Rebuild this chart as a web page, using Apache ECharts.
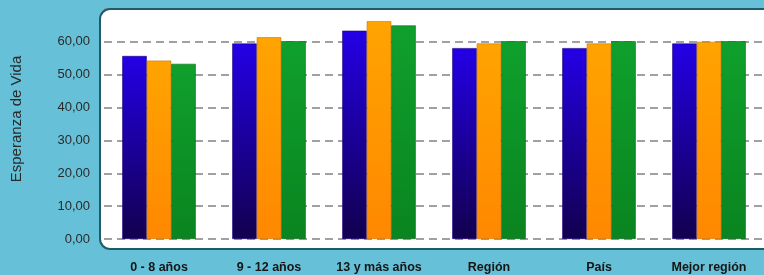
<!DOCTYPE html>
<html>
<head>
<meta charset="utf-8">
<script src="https://cdn.jsdelivr.net/npm/echarts@6/dist/echarts.min.js"></script>
<style>
html,body{margin:0;padding:0;background:#66C1D8;}
#c{width:764px;height:275px;}
</style>
</head>
<body>
<div id="c"></div>
<script>
const categories = ['0 - 8 años', '9 - 12 años', '13 y más años', 'Región', 'País', 'Mejor región'];
const serie1 = [55.7, 59.5, 63.4, 58.1, 58.1, 59.5];
const serie2 = [54.3, 61.4, 66.3, 59.5, 59.5, 60.0];
const serie3 = [53.3, 60.2, 65.0, 60.2, 60.2, 60.2];
const yTicks = [0, 10, 20, 30, 40, 50, 60];

function grad(top, bottom) {
  return new echarts.graphic.LinearGradient(0, 0, 0, 1, [
    {offset: 0, color: top}, {offset: 1, color: bottom}
  ]);
}

const chart = echarts.init(document.getElementById('c'));
const font = 'Liberation Sans, Arial, sans-serif';
chart.setOption({
  backgroundColor: '#66C1D8',
  animation: false,
  graphic: [
    {type: 'rect', z: -100, shape: {x: 100, y: 9, width: 690, height: 240, r: 10},
     style: {fill: '#ffffff', stroke: null}},
    {type: 'rect', z: 100, shape: {x: 100, y: 9, width: 690, height: 240, r: 10},
     style: {fill: null, stroke: '#1E5B6B', lineWidth: 2}},
    {type: 'text', z: 100, x: 17, y: 119, rotation: Math.PI / 2,
     style: {text: 'Esperanza de Vida', fill: '#2a2a2a', font: '15px ' + font, align: 'center', verticalAlign: 'middle'}}
  ],
  grid: {left: 104, width: 663, top: 9, bottom: 36, containLabel: false},
  xAxis: {
    type: 'category', data: categories,
    axisLine: {show: false}, axisTick: {show: false},
    axisLabel: {interval: 0, hideOverlap: false, color: '#151515', fontWeight: 'bold', fontSize: 12.5, fontFamily: font, margin: 22}
  },
  yAxis: {
    type: 'value', min: 0, max: 70, interval: 10,
    axisLine: {show: false}, axisTick: {show: false},
    axisLabel: {
      color: '#2a2a2a', fontSize: 13, fontFamily: font, margin: 14, showMaxLabel: false,
      formatter: v => yTicks.indexOf(v) >= 0 ? v.toFixed(2).replace('.', ',') : ''
    },
    splitLine: {lineStyle: {color: '#a0a0a0', type: [8, 5], width: 2}}
  },
  series: [
    {type: 'bar', data: serie1, barWidth: 24.5, barGap: '0%',
     itemStyle: {color: grad('#2400E6', '#12004E'), borderColor: '#1c0080', borderWidth: 0.6}},
    {type: 'bar', data: serie2, barWidth: 24.5, barGap: '0%',
     itemStyle: {color: grad('#FFA400', '#FF8800'), borderColor: '#c87400', borderWidth: 0.6}},
    {type: 'bar', data: serie3, barWidth: 24.5, barGap: '0%',
     itemStyle: {color: grad('#0FA02C', '#0A8420'), borderColor: '#08661a', borderWidth: 0.6}}
  ]
});
</script>
</body>
</html>
